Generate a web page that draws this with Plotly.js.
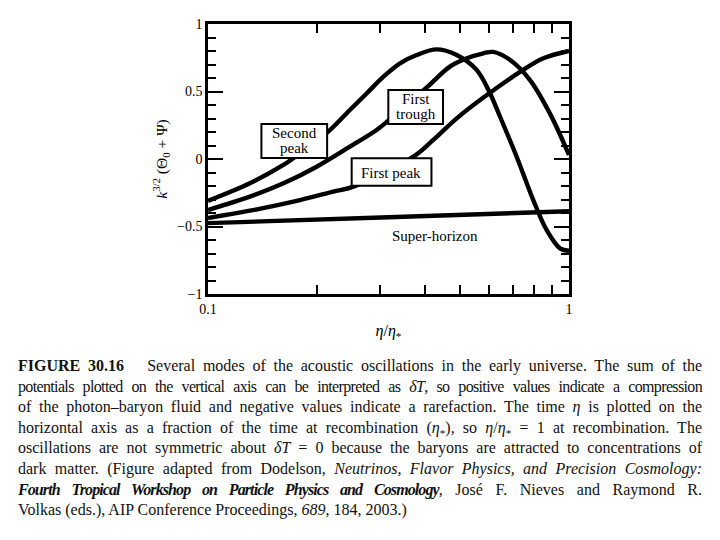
<!DOCTYPE html>
<html>
<head>
<meta charset="utf-8">
<script src="https://cdn.plot.ly/plotly-3.0.1.min.js"></script>
<style>
  html, body { margin: 0; padding: 0; background: #fff; }
  #wrap { position: relative; width: 720px; height: 540px; overflow: hidden; }
  #chart { position: absolute; left: 0; top: 0; width: 720px; height: 540px; }
  #caption { position: absolute; left: 18px; top: 356px; width: 684px;
    font-family: "Liberation Serif", "DejaVu Serif", serif; font-size: 16px; color: #111;
    line-height: 20.6px; }
  #caption div { white-space: nowrap; text-align: justify; text-align-last: justify; }
  #caption div.last { text-align-last: left; }
  #caption sub { line-height: 0; font-size: 70%; }
</style>
</head>
<body>
<div id="wrap">
  <div id="chart"></div>
  <div id="caption">
    <div><b>FIGURE 30.16</b>&nbsp;&nbsp; Several modes of the acoustic oscillations in the early universe. The sum of the</div>
    <div style="letter-spacing:-0.65px">potentials plotted on the vertical axis can be interpreted as <i>δT</i>, so positive values indicate a compression</div>
    <div>of the photon–baryon fluid and negative values indicate a rarefaction. The time <i>η</i> is plotted on the</div>
    <div>horizontal axis as a fraction of the time at recombination (<i>η</i><sub>*</sub>), so <i>η</i>/<i>η</i><sub>*</sub> = 1 at recombination. The</div>
    <div>oscillations are not symmetric about <i>δT</i> = 0 because the baryons are attracted to concentrations of</div>
    <div>dark matter. (Figure adapted from Dodelson, <i>Neutrinos, Flavor Physics, and Precision Cosmology:</i></div>
    <div><b><i style="letter-spacing:-0.9px">Fourth Tropical Workshop on Particle Physics and Cosmology</i></b>, José F. Nieves and Raymond R.</div>
    <div class="last">Volkas (eds.), AIP Conference Proceedings, <i>689</i>, 184, 2003.)</div>
  </div>
</div>
<script>
// ---- Data ----
const secondPeakX = [0.1, 0.1306, 0.1618, 0.1722, 0.2138, 0.2472, 0.2754, 0.3062, 0.3404, 0.3784, 0.4295, 0.4887, 0.5546, 0.5984, 0.6442, 0.7161, 0.7962, 0.867, 0.9441, 1.0];
const secondPeakY = [-0.31, -0.18, -0.044, 0.005, 0.195, 0.363, 0.487, 0.61, 0.709, 0.77, 0.812, 0.77, 0.66, 0.511, 0.313, 0.017, -0.304, -0.526, -0.662, -0.68];

const firstTroughX = [0.1, 0.1306, 0.1618, 0.2, 0.2472, 0.2931, 0.3162, 0.4036, 0.4677, 0.5212, 0.5794, 0.6166, 0.6871, 0.7798, 0.8851, 1.0];
const firstTroughY = [-0.378, -0.279, -0.18, -0.057, 0.091, 0.215, 0.285, 0.53, 0.684, 0.746, 0.783, 0.793, 0.733, 0.585, 0.338, 0.03];

const firstPeakX = [0.1, 0.1306, 0.1799, 0.2223, 0.2529, 0.3707, 0.4207, 0.4887, 0.5794, 0.7464, 0.8492, 1.0];
const firstPeakY = [-0.437, -0.383, -0.304, -0.242, -0.205, 0.017, 0.141, 0.301, 0.455, 0.66, 0.746, 0.80];

const superHorizonX = [0.1, 0.316, 1.0];
const superHorizonY = [-0.475, -0.432, -0.387];

const xTickVals = [0.1, 1.0];
const xTickText = ['0.1', '1'];
const xMinorTickVals = [0.2, 0.3, 0.4, 0.5, 0.6, 0.7, 0.8, 0.9];

const labelLines = ['Second', 'peak', 'First', 'trough', 'First peak', 'Super-horizon'];
// ---------------------------------------------

const serif = '"Liberation Serif", "DejaVu Serif", serif';
const lineStyle = { color: '#000', width: 4.4, shape: 'spline', smoothing: 1 };

const traces = [
  { x: superHorizonX, y: superHorizonY, name: 'Super-horizon' },
  { x: firstPeakX, y: firstPeakY, name: 'First peak' },
  { x: firstTroughX, y: firstTroughY, name: 'First trough' },
  { x: secondPeakX, y: secondPeakY, name: 'Second peak' }
].map(t => Object.assign(t, { type: 'scatter', mode: 'lines', line: lineStyle, hoverinfo: 'skip' }));

// label boxes (paper coordinates of the plotting area)
const box = (x0, x1, y0, y1) => ({
  type: 'rect', xref: 'paper', yref: 'paper', x0: x0, x1: x1, y0: y0, y1: y1,
  fillcolor: '#fff', line: { color: '#000', width: 2 }, layer: 'above'
});
const shapes = [
  box(0.148, 0.330, 0.504, 0.630),
  box(0.4995, 0.651, 0.630, 0.756),
  box(0.398, 0.619, 0.401, 0.503)
];

const txt = (text, x, y, size) => ({
  x: x, y: y, xref: 'paper', yref: 'paper', text: text, showarrow: false,
  xanchor: 'center', yanchor: 'middle',
  font: { family: serif, size: size || 15, color: '#000' }
});
const annotations = [
  txt(labelLines[0], 0.239, 0.595),
  txt(labelLines[1], 0.239, 0.541),
  txt(labelLines[2], 0.576, 0.723),
  txt(labelLines[3], 0.576, 0.667),
  txt(labelLines[4], 0.506, 0.450),
  txt(labelLines[5], 0.629, 0.216)
];

const layout = {
  width: 720, height: 540,
  margin: { l: 208, r: 151, t: 24, b: 246 },
  paper_bgcolor: '#fff', plot_bgcolor: '#fff',
  showlegend: false,
  font: { family: serif, color: '#000' },
  xaxis: {
    type: 'log', range: [-1, 0],
    tickmode: 'array', tickvals: xTickVals, ticktext: xTickText,
    ticks: 'inside', ticklen: 9, tickwidth: 2, tickcolor: '#000',
    minor: { tickmode: 'array', tickvals: xMinorTickVals, ticks: 'inside', ticklen: 9, tickwidth: 2, tickcolor: '#000', showgrid: false },
    showline: true, linewidth: 2.8, linecolor: '#000', mirror: 'ticks',
    showgrid: false, zeroline: false,
    tickfont: { family: serif, size: 14, color: '#000' },
    title: { text: '<i>η</i>/<i>η</i><sub>*</sub>', font: { family: serif, size: 16, color: '#000' }, standoff: 10 }
  },
  yaxis: {
    range: [-1, 1], tickmode: 'linear', tick0: 0, dtick: 0.5,
    ticks: 'inside', ticklen: 15, tickwidth: 2, tickcolor: '#000',
    minor: { tickmode: 'linear', tick0: 0, dtick: 0.1, ticks: 'inside', ticklen: 8, tickwidth: 2, tickcolor: '#000', showgrid: false },
    showline: true, linewidth: 2.8, linecolor: '#000', mirror: 'ticks',
    showgrid: false, zeroline: false,
    tickfont: { family: serif, size: 14, color: '#000' },
    title: { text: '<i>k</i><sup>3/2</sup> (Θ<sub>0</sub> + Ψ)', font: { family: serif, size: 15.5, color: '#000' }, standoff: 6 }
  },
  shapes: shapes,
  annotations: annotations
};

Plotly.newPlot('chart', traces, layout, { displayModeBar: false, staticPlot: true });
</script>
</body>
</html>
